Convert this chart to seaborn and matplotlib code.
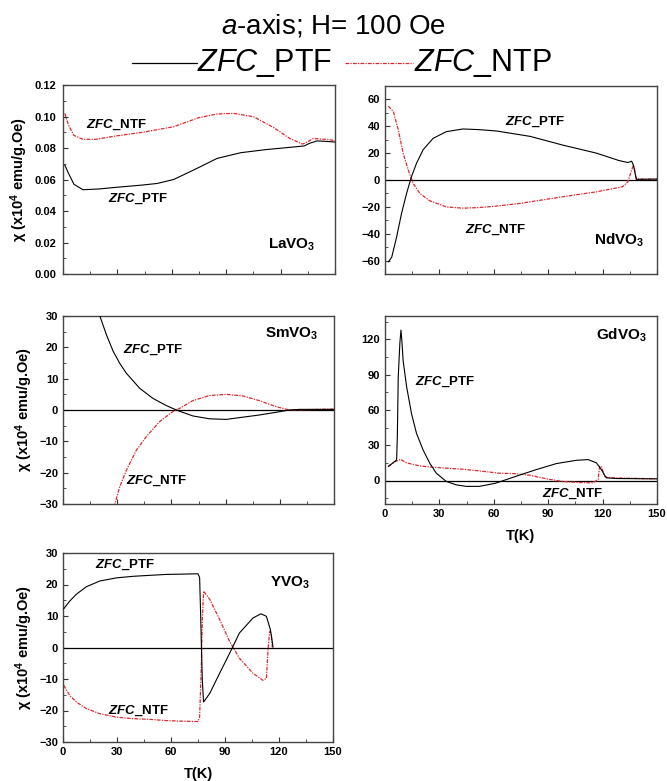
import numpy as np
import pandas as pd
import matplotlib
matplotlib.use("Agg")
import matplotlib.pyplot as plt
import seaborn as sns
from matplotlib.lines import Line2D
from matplotlib.ticker import MultipleLocator, FormatStrFormatter

# ---------------- data ----------------
# LaVO3
la_T_ptf = [1, 3, 6, 11, 20, 29, 44, 52, 61, 72, 85, 98, 112, 125, 133, 136, 140, 145, 150]
la_c_ptf = [0.0692, 0.064, 0.057, 0.0535, 0.054, 0.055, 0.0565, 0.0575, 0.060, 0.066, 0.0734,
            0.077, 0.079, 0.0804, 0.0813, 0.083, 0.0845, 0.0842, 0.0838]
la_T_ntf = [1, 3, 6, 11, 18, 29, 44, 61, 75, 85, 94, 105, 116, 125, 132, 134, 138, 145, 150]
la_c_ntf = [0.102, 0.0946, 0.088, 0.0855, 0.0855, 0.0876, 0.090, 0.0935, 0.0993, 0.1016, 0.102,
            0.0999, 0.0931, 0.0861, 0.0825, 0.0834, 0.086, 0.0855, 0.0847]

# NdVO3
nd_T_ptf = [1.8, 3.7, 6.4, 9.1, 11.9, 14.6, 17.4, 21, 26.5, 33.8, 43, 52, 61.5, 80, 98, 116.6, 129,
            134, 136, 137, 138.6, 150]
nd_c_ptf = [-61, -57.5, -42.5, -25, -10, 2.5, 12.5, 22.5, 31, 36, 38, 37.5, 36.5, 32.5, 26, 20, 14.5,
            13, 14, 11, 0.5, 0.7]
nd_T_ntf = [1.8, 4.6, 7.3, 10, 12.8, 15.5, 19.2, 24.7, 33.8, 43, 52, 61, 74, 98, 116.6, 131, 134,
            136, 137, 137.7, 138.6, 150]
nd_c_ntf = [55, 51, 37.5, 20, 7.5, -2.5, -10, -15.5, -20, -21, -20.5, -19.5, -17.5, -12.5, -8.8, -5,
            -1.2, 7.5, 11, 7.5, 0.7, 0.5]

# SmVO3
sm_T_ptf = [19.5, 20.4, 24.1, 27.8, 31.4, 35.1, 42.5, 49.8, 57.2, 63.6, 71.9, 81, 90.3, 99.4, 108.6,
            117.8, 125.2, 131, 150]
sm_c_ptf = [31.5, 30, 23.9, 18.7, 14.9, 11.7, 6.9, 3.7, 1.4, -0.2, -1.9, -2.8, -3.0, -2.3, -1.6,
            -0.75, 0, 0.2, 0.2]
sm_T_ntf = [28.2, 28.7, 31.4, 35.1, 40.6, 46.1, 53.5, 60.8, 64.5, 71.9, 81, 90.3, 99.4, 108.6, 117.8,
            125.2, 150]
sm_c_ntf = [-31, -30, -24.5, -19.2, -12.8, -8.5, -3.7, -0.5, 0.5, 3.0, 4.6, 5.0, 4.5, 3.0, 1.1, 0,
            0.3]

# GdVO3
gd_T_ptf = [1.8, 6.4, 6.8, 7.3, 8.2, 8.8, 9.3, 10, 11.9, 14.6, 17.4, 21, 24.7, 28.3, 33.8, 39.3,
            44.8, 52, 61, 72.5, 83.5, 94.5, 105.6, 112, 116.6, 119.3, 122, 127.6, 150]
gd_c_ptf = [11.9, 17.5, 37, 88, 117, 128, 119, 102, 80, 57, 40, 26, 14.7, 6.2, -0.8, -3.7, -5, -5,
            -2.3, 3.7, 9.3, 14.4, 17.2, 17.8, 15, 9.3, 2.3, 1.7, 1.4]
gd_T_ntf = [1.8, 5.5, 8.6, 11.9, 19.2, 26.5, 33.8, 43, 52, 63, 70.7, 80, 89, 98, 107.4, 114.7,
            117.5, 118.4, 119.3, 121, 123, 150]
gd_c_ntf = [12, 16, 18, 15, 12.4, 11.3, 10.5, 9.6, 8.2, 6.2, 5.9, 4.5, 1.4, -0.85, -1.7, -2,
            0.85, 12, 12, 3.7, 2.3, 1.4]

# YVO3
y_T_ptf = [0.4, 3.7, 7.4, 13, 20.4, 29.6, 38.9, 48, 57.4, 66.7, 75, 75.9, 76.5, 76.9, 77.4, 78.1,
           81.5, 87, 92.6, 98, 105.6, 110, 113, 115.2, 116.7]
y_c_ptf = [12.3, 14.7, 16.9, 19.3, 21.1, 22.1, 22.6, 22.9, 23.2, 23.3, 23.4, 22.2, 9.9, 0.3, -10.4,
           -17.3, -14.6, -8.2, -1.8, 4.6, 9.4, 10.7, 9.9, 5.7, 0.1]
y_T_ntf = [0.4, 3.7, 7.4, 13, 20.4, 29.6, 38.9, 48, 57.4, 66.7, 75, 75.9, 76.9, 77.4, 78.1, 81.5,
           87, 92.6, 98, 105.6, 111, 113, 113.9, 114.8, 115.7, 116.3]
y_c_ntf = [-12, -15.2, -17.3, -19.4, -21, -22.1, -22.6, -22.8, -23.2, -23.4, -23.5, -22.1, -5, 8.9,
           17.9, 15.3, 8.9, 1.9, -3.4, -8.2, -10.4, -9.8, -0.7, 5.1, 4.6, 0]

compounds = [r"$\mathbf{LaVO}_\mathbf{3}$", r"$\mathbf{NdVO}_\mathbf{3}$", r"$\mathbf{SmVO}_\mathbf{3}$",
             r"$\mathbf{GdVO}_\mathbf{3}$", r"$\mathbf{YVO}_\mathbf{3}$"]
title_text = r"$\it{a}$-axis; H= 100 Oe"
legend_labels = [r"$\it{ZFC}$_PTF", r"$\it{ZFC}$_NTP"]
ptf_label = r"$\mathbfit{ZFC}$_PTF"
ntf_label = r"$\mathbfit{ZFC}$_NTF"
ylabel = r"$\mathbf{\chi}$ (x10$^\mathbf{4}$ emu/g.Oe)"
xlabel = "T(K)"

# ---------------- style ----------------
sns.set_style("ticks")
plt.rcParams["font.family"] = ["Liberation Sans", "DejaVu Sans"]
plt.rcParams["mathtext.fontset"] = "custom"
plt.rcParams["mathtext.rm"] = "Liberation Sans"
plt.rcParams["mathtext.it"] = "Liberation Sans:italic"
plt.rcParams["mathtext.bf"] = "Liberation Sans:bold"
plt.rcParams["mathtext.bfit"] = "Liberation Sans:bold:italic"
for k in ("text.color", "axes.labelcolor", "xtick.color", "ytick.color"):
    plt.rcParams[k] = "black"

RED = "#e3262b"
RED_LS = (0, (3, 1, 1, 1))

fig = plt.figure(figsize=(6.67, 7.81), dpi=100)
W, H = 667.0, 781.0


def add_ax(l, t, r, b):
    return fig.add_axes([l / W, 1 - b / H, (r - l) / W, (b - t) / H])


axes = [
    add_ax(63, 85, 335, 274),
    add_ax(385, 86, 657, 274),
    add_ax(63, 316, 334, 504),
    add_ax(385, 316, 657, 504),
    add_ax(63, 553, 333, 742),
]

panels = [
    (la_T_ptf, la_c_ptf, la_T_ntf, la_c_ntf),
    (nd_T_ptf, nd_c_ptf, nd_T_ntf, nd_c_ntf),
    (sm_T_ptf, sm_c_ptf, sm_T_ntf, sm_c_ntf),
    (gd_T_ptf, gd_c_ptf, gd_T_ntf, gd_c_ntf),
    (y_T_ptf, y_c_ptf, y_T_ntf, y_c_ntf),
]
ylims = [(0, 0.12), (-70, 70), (-30, 30), (-20, 140), (-30, 30)]
ymaj = [0.02, 20, 10, 30, 10]
ymin = [0.01, 10, 5, 15, 5]
# text positions (T, chi) for labels: PTF, NTF, compound
lab_pos = [
    ((24.9, 0.048), (12.5, 0.0946), (113, 0.0184)),
    ((66, 43), (44, -37), (115.5, -45)),
    ((33.3, 19.3), (35.1, -22.5), (112, 24.4)),
    ((16.5, 84), (86.8, -11), (116.5, 123.7)),
    ((17.6, 26.1), (25, -20), (115, 20.6)),
]

for i, (ax, (tp, cp, tn, cn)) in enumerate(zip(axes, panels)):
    if i > 0:
        ax.axhline(0, color="black", lw=0.9, zorder=1)
    d1 = pd.DataFrame({"T": tp, "chi": cp})
    d2 = pd.DataFrame({"T": tn, "chi": cn})
    sns.lineplot(data=d2, x="T", y="chi", ax=ax, sort=False, estimator=None,
                 color=RED, lw=0.9, linestyle=RED_LS, zorder=2)
    sns.lineplot(data=d1, x="T", y="chi", ax=ax, sort=False, estimator=None,
                 color="black", lw=0.8, zorder=3)
    ax.set_xlim(0, 150)
    ax.set_ylim(*ylims[i])
    ax.xaxis.set_major_locator(MultipleLocator(30))
    ax.xaxis.set_minor_locator(MultipleLocator(15))
    ax.yaxis.set_major_locator(MultipleLocator(ymaj[i]))
    ax.yaxis.set_minor_locator(MultipleLocator(ymin[i]))
    ax.tick_params(which="both", direction="in", top=False, right=False, color="#333333")
    ax.tick_params(which="major", length=3.5, width=0.8, labelsize=8, pad=3.5)
    ax.tick_params(which="minor", length=2, width=0.6)
    for s in ax.spines.values():
        s.set_linewidth(1.0)
        s.set_color("#444444")
    if i == 0:
        ax.yaxis.set_major_formatter(FormatStrFormatter("%.2f"))
        ax.tick_params(axis="y", pad=5)
    for lbl in ax.get_xticklabels() + ax.get_yticklabels():
        lbl.set_fontweight("bold")
    if i in (3, 4):
        ax.set_xlabel(xlabel, fontsize=10.5, fontweight="bold", labelpad=7)
    else:
        ax.set_xlabel("")
        ax.tick_params(axis="x", labelbottom=False)
    if i in (0, 2, 4):
        ax.set_ylabel(ylabel, fontsize=10.5, fontweight="bold", labelpad=3)
    else:
        ax.set_ylabel("")
    (p1, p2, p3) = lab_pos[i]
    ax.text(p1[0], p1[1], ptf_label, fontsize=9.5, fontweight="bold", ha="left", va="center")
    ax.text(p2[0], p2[1], ntf_label, fontsize=9.5, fontweight="bold", ha="left", va="center")
    ax.text(p3[0], p3[1], compounds[i], fontsize=11, ha="left", va="center")

# title and legend
fig.text(0.5, 1 - 26 / H, title_text, fontsize=20, ha="center", va="center")
ly = 1 - 63 / H
fig.add_artist(Line2D([132 / W, 197 / W], [ly, ly], color="black", lw=0.9, transform=fig.transFigure))
fig.text(197 / W, ly, legend_labels[0], fontsize=22, ha="left", va="center")
fig.add_artist(Line2D([345 / W, 413 / W], [ly, ly], color=RED, lw=0.9, linestyle=RED_LS,
                      transform=fig.transFigure))
fig.text(414 / W, ly, legend_labels[1], fontsize=22, ha="left", va="center")

fig.savefig("out.png", dpi=100)
